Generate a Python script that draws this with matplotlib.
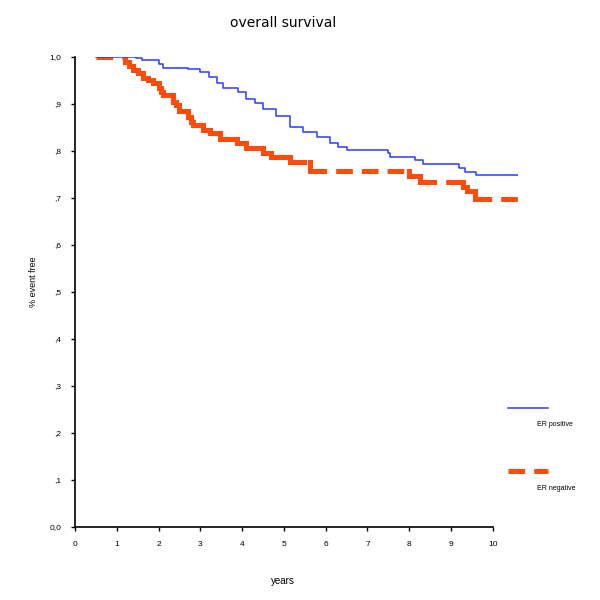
import matplotlib
matplotlib.use("Agg")
from matplotlib import pyplot as plt
from matplotlib.lines import Line2D

plt.rcParams['font.family'] = ['Liberation Sans', 'DejaVu Sans']
plt.rcParams['lines.scale_dashes'] = False

# Kaplan-Meier step points (years, fraction event free)
pos_years = [0.5, 1.47, 1.6, 2.0, 2.1, 2.7, 3.0, 3.2, 3.4, 3.55, 3.9, 4.1, 4.3, 4.5,
             4.8, 5.15, 5.45, 5.8, 6.1, 6.3, 6.5, 7.5, 7.55, 8.15, 8.33, 9.2, 9.33,
             9.6, 10.6]
pos_surv = [1.0, 0.997, 0.994, 0.985, 0.977, 0.974, 0.969, 0.958, 0.945, 0.935, 0.925,
            0.91, 0.902, 0.89, 0.875, 0.85, 0.841, 0.83, 0.817, 0.809, 0.802, 0.795,
            0.788, 0.781, 0.772, 0.764, 0.756, 0.749, 0.749]

neg_years = [0.5, 1.2, 1.3, 1.4, 1.5, 1.63, 1.75, 1.87, 2.0, 2.05, 2.1, 2.35, 2.42,
             2.5, 2.7, 2.77, 2.83, 3.07, 3.23, 3.47, 3.87, 4.1, 4.5, 4.7, 5.15, 5.62,
             8.0, 8.25, 9.3, 9.38, 9.57, 10.6]
neg_surv = [1.0, 0.99, 0.98, 0.972, 0.965, 0.955, 0.95, 0.945, 0.935, 0.925, 0.919,
            0.905, 0.898, 0.885, 0.872, 0.862, 0.855, 0.845, 0.838, 0.826, 0.817,
            0.806, 0.796, 0.787, 0.776, 0.758, 0.747, 0.733, 0.723, 0.715, 0.698, 0.698]

x_ticks = list(range(0, 11))
y_ticks = [0.0, 0.1, 0.2, 0.3, 0.4, 0.5, 0.6, 0.7, 0.8, 0.9, 1.0]
y_labels = ['0,0', ',1', ',2', ',3', ',4', ',5', ',6', ',7', ',8', ',9', '1,0']

blue = '#2b3cff'
orange = '#ff4c0a'
dash = (0, (12, 6.5))

fig = plt.figure(figsize=(6, 6), dpi=100)
ax = fig.add_axes([0.125, 0.122, 0.738, 0.783])

ax.step(pos_years, pos_surv, where='post', color=blue, lw=1.1, zorder=3)

# ER negative: each flat step dashed on its own (short steps come out solid)
ax.hlines(neg_surv[:-1], neg_years[:-1], neg_years[1:], colors=orange, lw=3.6,
          linestyles=[dash], zorder=2)
ax.vlines(neg_years[1:-1], neg_surv[1:-1], neg_surv[:-2], colors=orange, lw=3.6,
          capstyle='projecting', zorder=2)

ax.set_xlim(0, 10.6)
ax.set_ylim(0, 1.0)
ax.set_xticks(x_ticks)
ax.set_xticklabels([str(t) for t in x_ticks])
ax.set_yticks(y_ticks)
ax.set_yticklabels(y_labels)
ax.tick_params(labelsize=6, length=3, width=1, direction='out', pad=7)
for side in ['top', 'right']:
    ax.spines[side].set_visible(False)
for side in ['left', 'bottom']:
    ax.spines[side].set_linewidth(1.2)
ax.spines['bottom'].set_bounds(0, 10)

fig.text(283 / 600, 1 - 23 / 600, 'overall survival', ha='center', va='center',
         fontsize=10, family='DejaVu Sans')
fig.text(283 / 600, 1 - 581 / 600, 'years', ha='center', va='center', fontsize=7)
fig.text(33 / 600, 1 - 282 / 600, '% event free', ha='center', va='center',
         rotation=90, fontsize=6.5)

# legend drawn outside the axes
fig.add_artist(Line2D([508 / 600, 548 / 600], [1 - 408 / 600, 1 - 408 / 600],
                      color=blue, lw=1.1))
fig.text(537 / 600, 1 - 425 / 600, 'ER positive', ha='left', va='center', fontsize=5)
fig.add_artist(Line2D([508 / 600, 548 / 600], [1 - 471 / 600, 1 - 471 / 600],
                      color=orange, lw=3.6, linestyle=dash))
fig.text(537 / 600, 1 - 488 / 600, 'ER negative', ha='left', va='center', fontsize=5)

fig.savefig('out.png', dpi=100)
